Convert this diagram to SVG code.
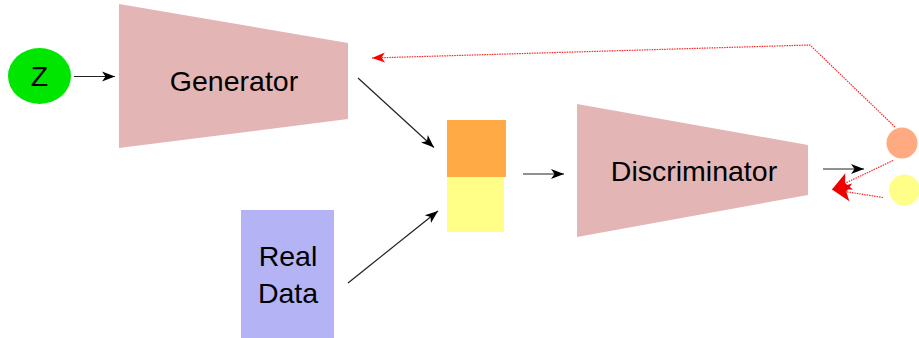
<svg xmlns="http://www.w3.org/2000/svg" width="919" height="338" viewBox="0 0 919 338">
<style>
.trap{fill:#E3B5B5}
.lbl{font-family:"Liberation Sans",Arial,sans-serif;font-size:28.5px;fill:#000;text-anchor:middle}
.blk{stroke:#222;stroke-width:1.2;fill:none;marker-end:url(#ab)}
.red{stroke:#F22;stroke-width:1.2;fill:none;stroke-dasharray:1.5 1}
</style>
<defs>
<marker id="ab" markerUnits="userSpaceOnUse" markerWidth="14" markerHeight="10" refX="13" refY="5" orient="auto" overflow="visible">
<path d="M0,0 L13,5 L0,10 L3.5,5 Z" fill="#000"/>
</marker>
<marker id="ar" markerUnits="userSpaceOnUse" markerWidth="14" markerHeight="10" refX="13" refY="5" orient="auto" overflow="visible">
<path d="M0,0 L13,5 L0,10 L3.5,5 Z" fill="#F00"/>
</marker>
<marker id="arb" markerUnits="userSpaceOnUse" markerWidth="20" markerHeight="18" refX="19" refY="9" orient="auto" overflow="visible">
<path d="M0,0 L19,9 L0,18 L4.5,9 Z" fill="#E00"/>
</marker>
</defs>
<g id="z">
<ellipse cx="39.5" cy="76" rx="31.5" ry="28" fill="#00E600"/>
<text class="lbl" x="39.5" y="86">Z</text>
</g>
<g id="generator">
<polygon class="trap" points="119,4 348,43 348,119 119,148"/>
<text class="lbl" x="234" y="91">Generator</text>
</g>
<g id="fake">
<rect x="447" y="120" width="59" height="57" fill="#FFAA44"/>
</g>
<g id="real-sample">
<rect x="447" y="177" width="57" height="55" fill="#FFFF88"/>
</g>
<g id="realdata">
<rect x="241" y="210" width="93" height="128" fill="#B3B3F5"/>
<text class="lbl" x="288" y="266">Real</text>
<text class="lbl" x="288" y="303">Data</text>
</g>
<g id="discriminator">
<polygon class="trap" points="577,104 808,145 808,195 577,237"/>
<text class="lbl" x="694" y="181">Discriminator</text>
</g>
<g id="out-fake">
<circle cx="902" cy="143" r="15.5" fill="#FFAA80"/>
</g>
<g id="out-real">
<circle cx="904.5" cy="190" r="15.5" fill="#FFFF88"/>
</g>
<g id="connectors">
<line class="blk" x1="74" y1="76.5" x2="115" y2="76.5"/>
<line class="blk" x1="358" y1="78" x2="434" y2="147.5"/>
<line class="blk" x1="348" y1="283" x2="438" y2="211"/>
<line class="blk" x1="523" y1="174" x2="564" y2="174"/>
<line class="blk" x1="823" y1="169" x2="864" y2="169"/>
<polyline class="red" points="895,127 810,45 372,58" marker-end="url(#ar)"/>
<line class="red" x1="893" y1="160.5" x2="832" y2="189.5" marker-end="url(#arb)"/>
<line class="red" x1="883" y1="197.5" x2="832" y2="189.5" marker-end="url(#arb)"/>
</g>
</svg>
